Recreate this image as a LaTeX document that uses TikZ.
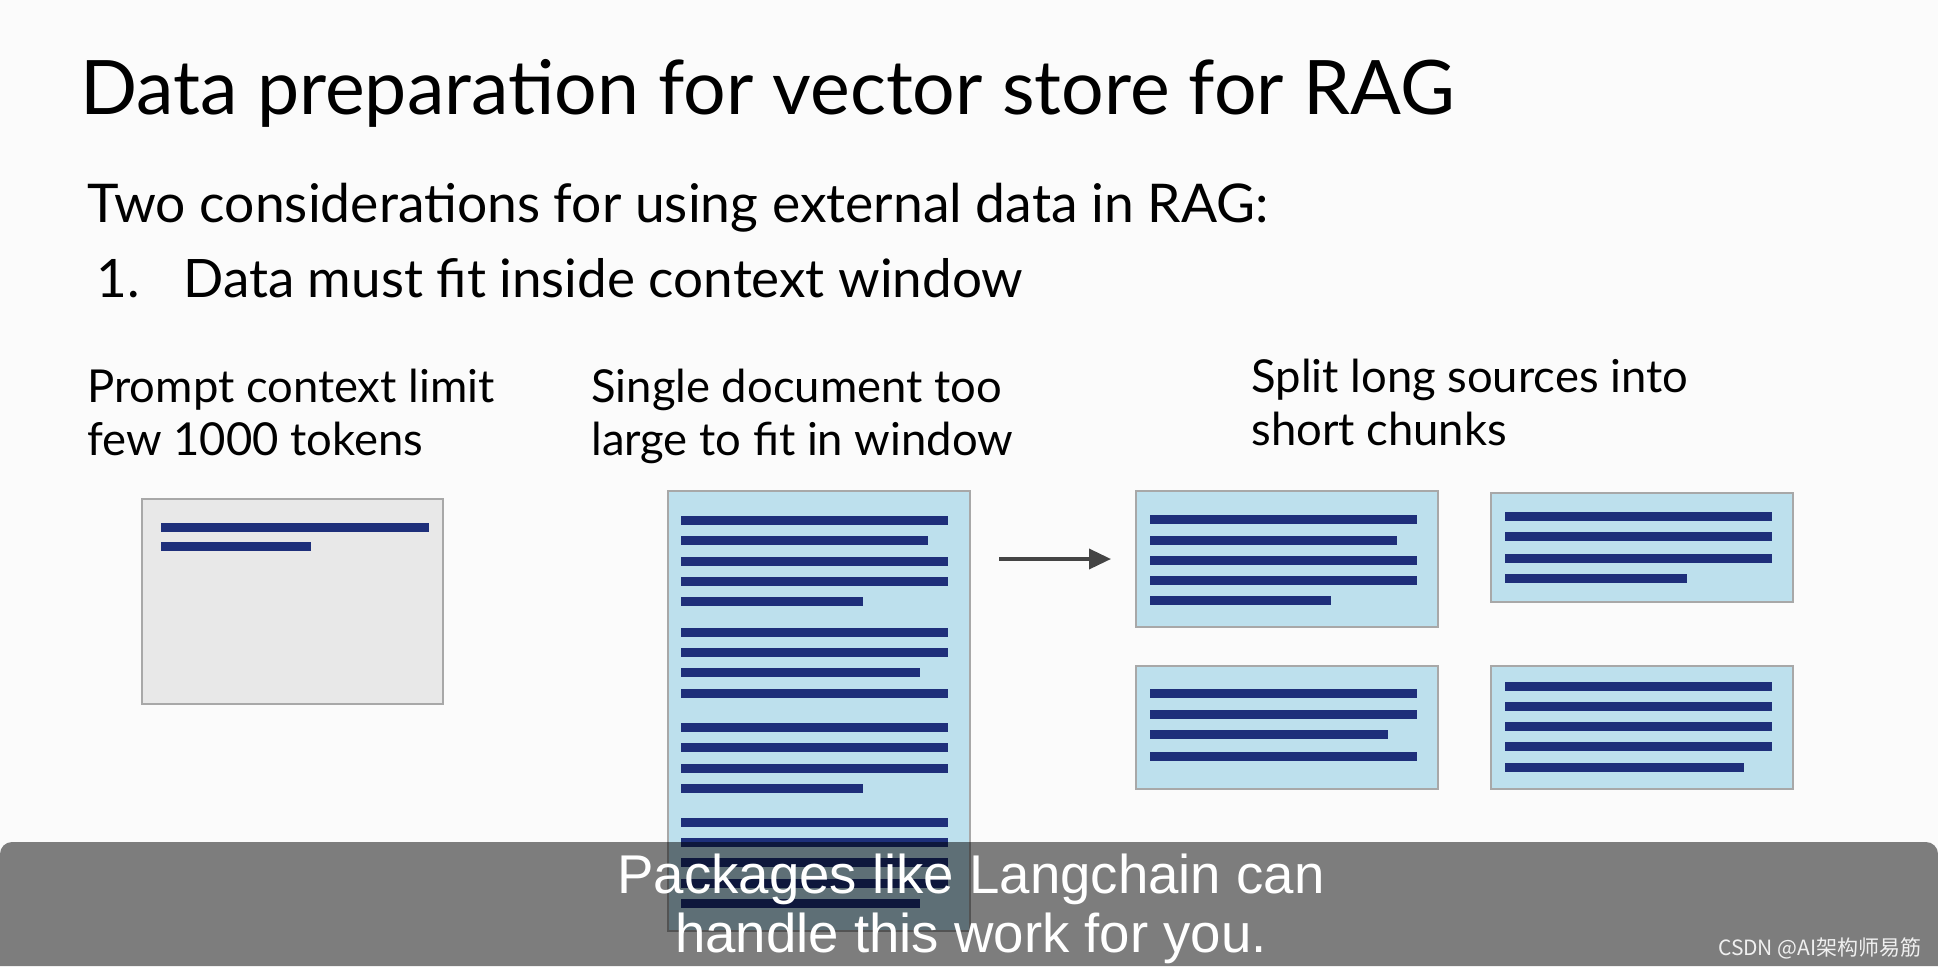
\documentclass[tikz,border=0pt]{standalone}
\usepackage{fontspec}
\setmainfont{Lato}
\newfontfamily\capfont{Liberation Sans}
\newfontfamily\cjkfont{Noto Sans CJK SC}
\usetikzlibrary{arrows.meta,calc}

\definecolor{bgwhite}{RGB}{251,251,251}
\definecolor{barblue}{RGB}{30,47,122}
\definecolor{chunkblue}{RGB}{189,224,237}
\definecolor{boxgray}{RGB}{232,232,232}
\definecolor{edgegray}{RGB}{168,168,168}
\definecolor{arrowgray}{RGB}{68,68,68}

\tikzset{
  page/.style={draw=edgegray, line width=1pt, inner sep=0pt, anchor=north west},
  chunk/.style={page, fill=chunkblue, minimum width=151pt},
  limitbox/.style={page, fill=boxgray},
  bar/.style={barblue, line width=4.5pt},
  arr/.style={arrowgray, line width=1.8pt, -{Triangle[length=11pt,width=10pt]}},
  txt/.style={inner sep=0pt, anchor=base west, align=left}
}

\begin{document}
\begin{tikzpicture}[x=0.5pt, y=-0.5pt]

\fill[bgwhite] (0,0) rectangle (1938,966);
\useasboundingbox (0,0) rectangle (1938,966);

% headings
\node[txt, font=\fontsize{37.6}{40}\selectfont] (title) at (80,114) {Data preparation for vector store for RAG};
\node[txt, font=\fontsize{26.7}{30}\selectfont] (intro) at (87,222) {Two considerations for using external data in RAG:};
\node[txt, font=\fontsize{26.5}{30}\selectfont] (num) at (96,297) {1.};
\node[txt, font=\fontsize{26.5}{30}\selectfont] (item) at (183,297) {Data must fit inside context window};

% column labels (base = last line)
\node[txt, font=\fontsize{22.7}{26.5}\selectfont] (lbllimit) at (87,455) {Prompt context limit\\few 1000 tokens};
\node[txt, font=\fontsize{22.7}{26.5}\selectfont] (lbldoc) at (591,455) {Single document too\\large to fit in window};
\node[txt, font=\fontsize{22.7}{26.5}\selectfont] (lblsplit) at (1251,445) {Split long sources into\\short chunks};

% prompt window
\node[limitbox, minimum width=150.5pt, minimum height=102.5pt] (limit) at (141,498) {};
\foreach \dy/\len in {29/268, 48/150}
  \draw[bar] ([shift={(20,\dy)}]limit.north west) -- ++(\len,0);

% long document
\node[chunk, minimum height=220pt] (doc) at (667,490) {};
\foreach \dy/\len in {30/267, 50/247, 71/267, 91/267, 111/182,
                      142/267, 162/267, 182/239, 203/267,
                      237/267, 257/267, 278/267, 298/182,
                      332/267, 352/267, 372/267, 393/267, 413/239}
  \draw[bar] ([shift={(14,\dy)}]doc.north west) -- ++(\len,0);

% chunks
\node[chunk, minimum height=68pt] (chA) at (1135,490) {};
\node[chunk, minimum height=54.5pt] (chB) at (1490,492) {};
\node[chunk, minimum height=61.5pt] (chC) at (1135,665) {};
\node[chunk, minimum height=61.5pt] (chD) at (1490,665) {};

\foreach \dy/\len in {29/267, 50/247, 70/267, 90/267, 110/181}
  \draw[bar] ([shift={(15,\dy)}]chA.north west) -- ++(\len,0);
\foreach \dy/\len in {24/267, 44/267, 66/267, 86/182}
  \draw[bar] ([shift={(15,\dy)}]chB.north west) -- ++(\len,0);
\foreach \dy/\len in {28/267, 49/267, 69/238, 91/267}
  \draw[bar] ([shift={(15,\dy)}]chC.north west) -- ++(\len,0);
\foreach \dy/\len in {21/267, 41/267, 61/267, 81/267, 102/239}
  \draw[bar] ([shift={(15,\dy)}]chD.north west) -- ++(\len,0);

\draw[arr, shorten <=14pt, shorten >=12pt] (doc.east |- chA.west) -- (chA.west);

% caption band
\fill[black, opacity=0.5] (0,966) {[rounded corners=6pt] -- (0,842) -- (1938,842)} -- (1938,966) -- cycle;
\node[inner sep=0pt, anchor=base, align=center, text=white,
      font=\capfont\fontsize{27.3}{29.5}\selectfont] (caption) at (971,952)
  {Packages like Langchain can\\handle this work for you.};
\node[inner sep=0pt, anchor=base east, text=white!88!gray,
      font=\cjkfont\fontsize{10.5}{12}\selectfont] (mark) at (1922,955) {CSDN @AI架构师易筋};

\end{tikzpicture}
\end{document}
